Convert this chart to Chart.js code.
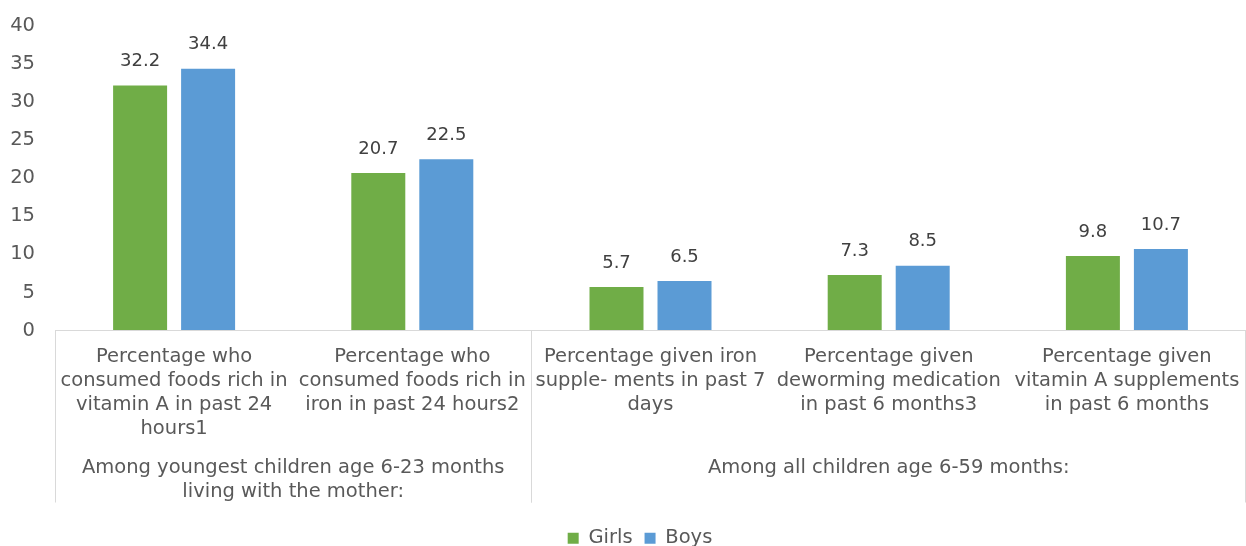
<!DOCTYPE html>
<html lang="en">
<head>
  <meta charset="UTF-8" />
  <title>Micronutrient intake by sex</title>
  <script src="https://cdn.jsdelivr.net/npm/chart.js"></script>
  <style>
    html, body { margin: 0; padding: 0; background: #fff; }
    #wrap { width: 1246px; height: 546px; }
  </style>
</head>
<body>
  <div id="wrap"><canvas id="chart" width="1246" height="546"></canvas></div>

  <script>
    // category labels (split into lines as in the source)
    const categories = [
      ["Percentage who", "consumed foods rich in", "vitamin A in past 24", "hours1"],
      ["Percentage who", "consumed foods rich in", "iron in past 24 hours2"],
      ["Percentage given iron", "supple- ments in past 7", "days"],
      ["Percentage given", "deworming medication", "in past 6 months3"],
      ["Percentage given", "vitamin A supplements", "in past 6 months"]
    ];
    // outer grouping: label lines + index range of categories
    const groupLabels = [
      ["Among youngest children age 6-23 months", "living with the mother:"],
      ["Among all children age 6-59 months:"]
    ];
    const groupRanges = [[0, 1], [2, 4]];

    const girls = [32.2, 20.7, 5.7, 7.3, 9.8];
    const boys = [34.4, 22.5, 6.5, 8.5, 10.7];

    const FONT = "'DejaVu Sans', sans-serif";
    const TXT = "#595959";
    const FS = 19.5;

    // value labels above the bars
    const valueLabels = {
      id: "valueLabels",
      afterDatasetsDraw(chart) {
        const ctx = chart.ctx;
        ctx.save();
        ctx.font = "18px " + FONT;
        ctx.fillStyle = "#404040";
        ctx.textAlign = "center";
        ctx.textBaseline = "bottom";
        chart.data.datasets.forEach((ds, i) => {
          chart.getDatasetMeta(i).data.forEach((bar, j) => {
            ctx.fillText(ds.data[j].toFixed(1), bar.x, bar.y - 15);
          });
        });
        ctx.restore();
      }
    };

    // second level of the category axis + separators
    const groupAxis = {
      id: "groupAxis",
      afterLayout(chart) {
        // nudge the legend row down/right like the original
        chart.legend.top += 12;
        chart.legend.bottom += 12;
        chart.legend.left += 17;
        chart.legend.right += 17;
      },
      afterDraw(chart) {
        const ctx = chart.ctx;
        const x = chart.scales.x;
        const top = chart.chartArea.bottom;
        const bottom = top + 172;
        const step = x.getPixelForValue(1) - x.getPixelForValue(0);
        ctx.save();
        ctx.strokeStyle = "#d9d9d9";
        ctx.lineWidth = 1;
        ctx.font = FS + "px " + FONT;
        ctx.fillStyle = TXT;
        ctx.textAlign = "center";
        ctx.textBaseline = "middle";
        groupRanges.forEach((r, g) => {
          const left = x.getPixelForValue(r[0]) - step / 2;
          const right = x.getPixelForValue(r[1]) + step / 2;
          [left, right].forEach(px => {
            const p = Math.min(Math.round(px), chart.width - 1) + 0.5;
            ctx.beginPath();
            ctx.moveTo(p, top);
            ctx.lineTo(p, bottom);
            ctx.stroke();
          });
          groupLabels[g].forEach((line, k) => {
            ctx.fillText(line, (left + right) / 2, top + 137 + k * 24);
          });
        });
        ctx.restore();
      }
    };

    new Chart(document.getElementById("chart"), {
      type: "bar",
      data: {
        labels: categories,
        datasets: [
          { label: "Girls", data: girls, backgroundColor: "#70AD47" },
          { label: "Boys", data: boys, backgroundColor: "#5B9BD5" }
        ]
      },
      options: {
        responsive: false,
        animation: false,
        datasets: { bar: { categoryPercentage: 0.571, barPercentage: 0.794 } },
        layout: { padding: { top: 26, right: 0, left: 0, bottom: 0 } },
        scales: {
          x: {
            grid: { display: true, drawOnChartArea: false, drawTicks: true, tickLength: 14, color: "transparent" },
            border: { display: true, color: "#d9d9d9", width: 1 },
            ticks: { color: TXT, font: { size: FS, family: FONT, lineHeight: 24 / FS }, padding: 0, maxRotation: 0, autoSkip: false },
            afterFit(scale) { scale.height = 174; }
          },
          y: {
            min: 0,
            max: 40,
            grid: { display: true, drawOnChartArea: false, drawTicks: true, tickLength: 20, color: "transparent" },
            border: { display: false },
            ticks: { stepSize: 5, color: TXT, font: { size: FS, family: FONT }, padding: 0 },
            afterFit(scale) { scale.width = 55; }
          }
        },
        plugins: {
          legend: {
            position: "bottom",
            labels: { color: TXT, font: { size: FS, family: FONT }, boxWidth: 11, boxHeight: 11, padding: 12 }
          },
          tooltip: { enabled: false }
        }
      },
      plugins: [valueLabels, groupAxis]
    });
  </script>
</body>
</html>
